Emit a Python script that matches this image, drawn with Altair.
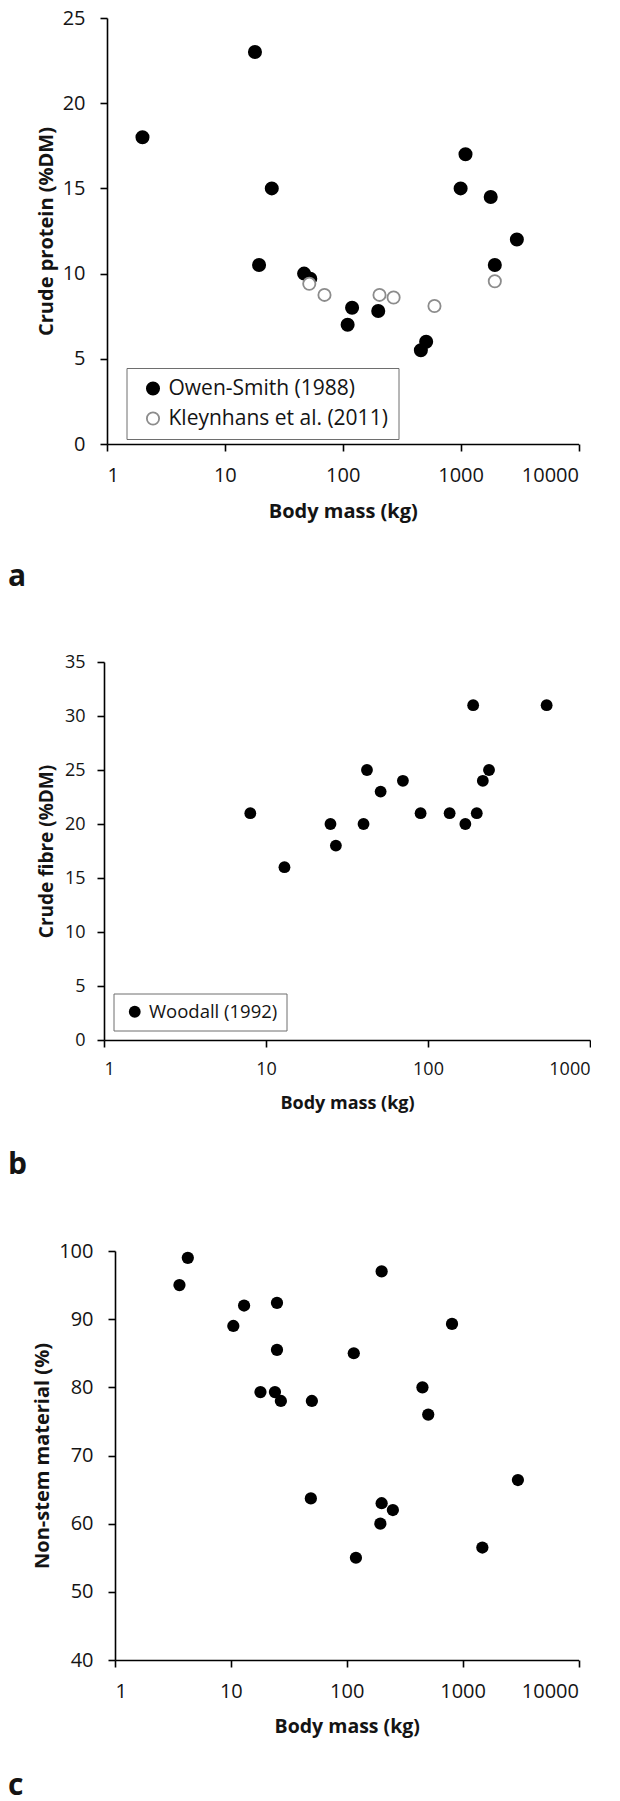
import altair as alt
import pandas as pd

# ---- Panel a: crude protein ----
owen_mass = [2, 18, 19.5, 25, 47, 53, 110, 120, 200, 460, 510, 1000, 1100, 1800, 1950, 3000]
owen_cp = [18, 23, 10.5, 15, 10, 9.7, 7, 8, 7.8, 5.5, 6, 15, 17, 14.5, 10.5, 12]
kley_mass = [52, 70, 205, 270, 600, 1950]
kley_cp = [9.4, 8.75, 8.75, 8.6, 8.1, 9.55]
sources_a = ["Owen-Smith (1988)", "Kleynhans et al. (2011)"]

# ---- Panel b: crude fibre ----
wood_mass = [8, 13, 25, 27, 40, 42, 51, 70, 90, 136, 170, 190, 200, 218, 238, 540]
wood_cf = [21, 16, 20, 18, 20, 25, 23, 24, 21, 21, 20, 31, 21, 24, 25, 31]
sources_b = ["Woodall (1992)"]

# ---- Panel c: non-stem material ----
c_mass = [3.6, 4.25, 10.5, 13, 18, 24, 25, 25, 27, 50, 49, 115, 120, 200, 200, 195,
          250, 450, 505, 810, 1480, 3000]
c_nsm = [95, 99, 89, 92, 79.3, 79.3, 92.4, 85.5, 78, 78, 63.7, 85, 55, 97, 63, 60,
         62, 80, 76, 89.3, 56.5, 66.4]

FONT = "Open Sans"
INK = "#141414"

df_a = pd.DataFrame({
    "mass": owen_mass + kley_mass,
    "val": owen_cp + kley_cp,
    "source": [sources_a[0]] * len(owen_mass) + [sources_a[1]] * len(kley_mass),
})
df_b = pd.DataFrame({"mass": wood_mass, "val": wood_cf, "source": sources_b * len(wood_mass)})
df_c = pd.DataFrame({"mass": c_mass, "val": c_nsm})


def xaxis(domain, rng, ticks, lab, tit, lpad):
    return alt.X(
        "mass:Q",
        scale=alt.Scale(type="log", domain=domain, range=rng),
        axis=alt.Axis(values=ticks, format="d", title="Body mass (kg)",
                      labelFontSize=lab, titleFontSize=tit, labelPadding=lpad,
                      titlePadding=16),
    )


def yaxis(domain, ticks, title, lab, tit, lpad, tpad, off):
    return alt.Y(
        "val:Q",
        scale=alt.Scale(domain=domain, nice=False, zero=False),
        axis=alt.Axis(values=ticks, title=title, labelFontSize=lab,
                      titleFontSize=tit, labelPadding=lpad, titlePadding=tpad,
                      offset=off),
    )


def panel_title(letter, offset):
    return alt.TitleParams(letter, orient="bottom", anchor="start", frame="group",
                           fontSize=30, fontWeight="bold", font=FONT, color=INK,
                           dx=-96, offset=offset, baseline="top")


leg_a = alt.Legend(orient="none", legendX=22.5, legendY=350, title=None,
                   strokeColor="#6e6e6e", fillColor="white", padding=10,
                   symbolSize=150, symbolStrokeWidth=1.8, symbolOffset=6,
                   labelFontSize=21, labelFont=FONT, labelColor=INK, labelLimit=500,
                   labelOffset=5, rowPadding=8)

chart_a = alt.Chart(df_a).mark_point(size=150, strokeWidth=1.8, opacity=1).encode(
    x=xaxis([1, 10000], [3, 474.5], [1, 10, 100, 1000, 10000], 20, 20, 14),
    y=yaxis([0, 25], [0, 5, 10, 15, 20, 25], "Crude protein (%DM)", 20, 20, 15, 6, -3),
    fill=alt.Fill("source:N", scale=alt.Scale(domain=sources_a, range=["black", "white"]),
                  legend=leg_a),
    stroke=alt.Stroke("source:N", scale=alt.Scale(domain=sources_a, range=["black", "#8c8c8c"]),
                      legend=leg_a),
    order=alt.Order("order:Q"),
).transform_calculate(
    order="datum.source == 'Owen-Smith (1988)' ? 0 : 1"
).properties(width=474.5, height=426, title=panel_title("a", 41))

leg_b = alt.Legend(orient="none", legendX=9.5, legendY=331.5, title=None,
                   strokeColor="#6e6e6e", fillColor="white", padding=9,
                   symbolSize=140, symbolStrokeWidth=0, symbolOffset=3,
                   labelFontSize=18.5, labelFont=FONT, labelColor=INK, labelLimit=500,
                   labelOffset=5)

chart_b = alt.Chart(df_b).mark_circle(size=140, opacity=1).encode(
    x=xaxis([1, 1000], [0, 486], [1, 10, 100, 1000], 18, 18, 13),
    y=yaxis([0, 35], [0, 5, 10, 15, 20, 25, 30, 35], "Crude fibre (%DM)", 18, 19, 12, 8, 0),
    color=alt.Color("source:N", scale=alt.Scale(domain=sources_b, range=["black"]),
                    legend=leg_b),
).properties(width=486, height=378, title=panel_title("b", 37.5))

chart_c = alt.Chart(df_c).mark_circle(size=150, opacity=1, color="black").encode(
    x=xaxis([1, 10000], [11, 474.5], [1, 10, 100, 1000, 10000], 20, 19.5, 14),
    y=yaxis([40, 100], [40, 50, 60, 70, 80, 90, 100], "Non-stem material (%)", 20, 20, 15, 6, -11),
).properties(width=474.5, height=409, title=panel_title("c", 35))

chart = alt.vconcat(
    chart_a, chart_b, chart_c, spacing=61,
).resolve_scale(
    fill="independent", stroke="independent", color="independent"
).resolve_legend(
    fill="independent", stroke="independent", color="independent"
).properties(
    padding={"left": 0, "top": 0, "right": 0, "bottom": 0}
).configure(font=FONT).configure_view(stroke=None).configure_axis(
    grid=False, domainColor="black", domainWidth=1.6, tickColor="black",
    tickWidth=1.6, tickSize=7, labelColor=INK, titleColor=INK, labelFont=FONT,
    titleFont=FONT, titleFontWeight="bold", labelFontWeight="normal",
)

chart.save("out.html", embed_options={"renderer": "svg", "actions": False})
